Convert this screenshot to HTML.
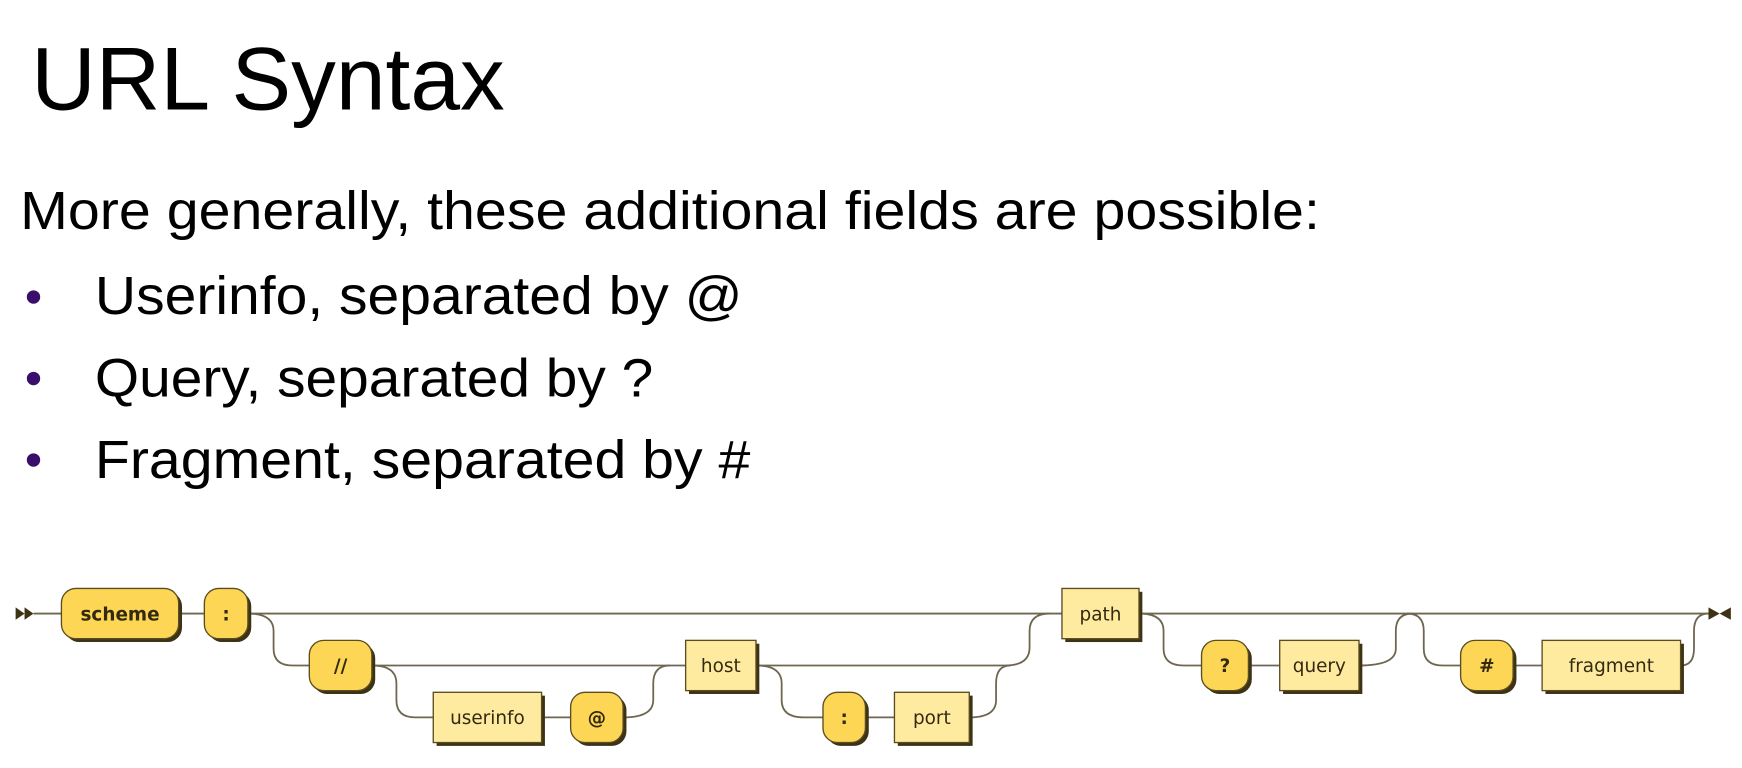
<!DOCTYPE html>
<html><head><meta charset="utf-8"><style>
html,body{margin:0;padding:0;background:#fff;}
svg{display:block;}
text{font-family:"Liberation Sans",Arial,sans-serif;}
.lbl{font-family:"DejaVu Sans","Liberation Sans",sans-serif;font-size:16.5px;fill:#332a10;}
</style></head><body>
<svg id="s" width="1742" height="768" viewBox="0 0 1560 687.8" preserveAspectRatio="none" xmlns="http://www.w3.org/2000/svg">
<text x="28" y="98" font-size="80" textLength="424" lengthAdjust="spacingAndGlyphs">URL Syntax</text>
<text x="18" y="205" font-size="48" textLength="1164" lengthAdjust="spacingAndGlyphs">More generally, these additional fields are possible:</text>
<circle cx="30" cy="266" r="6" fill="#3a0f6b"/>
<text x="85" y="281" font-size="48" textLength="580" lengthAdjust="spacingAndGlyphs">Userinfo, separated by @</text>
<circle cx="30" cy="339" r="6" fill="#3a0f6b"/>
<text x="85" y="355" font-size="48" textLength="500" lengthAdjust="spacingAndGlyphs">Query, separated by ?</text>
<circle cx="30" cy="412" r="6" fill="#3a0f6b"/>
<text x="85" y="428" font-size="48" textLength="587" lengthAdjust="spacingAndGlyphs">Fragment, separated by #</text>
<g id="tracks" fill="none" stroke="#6e6650" stroke-width="1.6"></g>
<g id="nodes"></g>
<polygon points="14,544 22,549.5 14,555" fill="#3d3214"/>
<polygon points="22,544 30,549.5 22,555" fill="#3d3214"/>
<polygon points="1530,544 1540,549.5 1530,555" fill="#3d3214"/>
<polygon points="1550,544 1540,549.5 1550,555" fill="#3d3214"/>
</svg>
<script>
const NS="http://www.w3.org/2000/svg";
const labels=["scheme",":","//","userinfo","@","host",":","port","path","?","query","#","fragment"];
const kinds=["t","t","t","n","t","n","t","n","n","t","n","t","n"];
const xs0=[55,183,277,388,511,614,737,801,951,1076,1146,1308,1381];
const xs1=[160,222,333,485,558,677,775,868,1020,1118,1217,1355,1505];
const rows=[0,0,1,2,2,1,2,2,0,1,1,1,1];
const rowY=[549.5,596,642.5];
const H=45;
const tracks=[
 "M30 549.5 H55","M160 549.5 H183","M222 549.5 H951","M1020 549.5 H1530",
 "M222 549.5 Q245 549.5 245 565 V581 Q245 596 262 596 H277",
 "M333 596 H614","M333 596 Q355 596 355 612 V627 Q355 642.5 372 642.5 H388",
 "M485 642.5 H511","M558 642.5 Q585 642.5 585 627 V612 Q585 596 600 596",
 "M677 596 H900 Q922 596 922 580 V565 Q922 549.5 940 549.5",
 "M677 596 Q700 596 700 612 V627 Q700 642.5 720 642.5 H737","M775 642.5 H801",
 "M868 642.5 Q892 642.5 892 627 V612 Q892 596 905 596",
 "M1020 549.5 Q1042 549.5 1042 565 V581 Q1042 596 1060 596 H1076","M1118 596 H1146",
 "M1217 596 Q1250 596 1250 581 V565 Q1250 549.5 1265 549.5",
 "M1260 549.5 Q1275 549.5 1275 565 V581 Q1275 596 1292 596 H1308","M1355 596 H1381",
 "M1505 596 Q1517 596 1517 581 V565 Q1517 549.5 1530 549.5"
];
const tg=document.getElementById('tracks');
tracks.forEach((d,i)=>{const p=document.createElementNS(NS,'path');p.setAttribute('d',d);


tg.appendChild(p);});
const ng=document.getElementById('nodes');
labels.forEach((l,i)=>{
 const g=document.createElementNS(NS,'g');
 
 
 const x=xs0[i],w=xs1[i]-xs0[i],cy=rowY[rows[i]],y=cy-H/2;
 const rx=kinds[i]=="t"?13:0;
 const sh=document.createElementNS(NS,'rect');
 sh.setAttribute('x',x+3);sh.setAttribute('y',y+3);sh.setAttribute('width',w);sh.setAttribute('height',H);sh.setAttribute('rx',rx);sh.setAttribute('fill','#3d3214');
 g.appendChild(sh);
 const r=document.createElementNS(NS,'rect');
 r.setAttribute('x',x);r.setAttribute('y',y);r.setAttribute('width',w);r.setAttribute('height',H);r.setAttribute('rx',rx);
 r.setAttribute('fill',kinds[i]=="t"?'#fcd654':'#feeba0');r.setAttribute('stroke','#5a4d22');r.setAttribute('stroke-width','1.2');
 g.appendChild(r);
 const t=document.createElementNS(NS,'text');
 t.setAttribute('x',x+w/2);t.setAttribute('y',cy+6);t.setAttribute('text-anchor','middle');t.setAttribute('class','lbl');
 if(kinds[i]=="t")t.setAttribute('font-weight','bold');
 t.textContent=l;g.appendChild(t);
 ng.appendChild(g);
});
</script>
</body></html>
